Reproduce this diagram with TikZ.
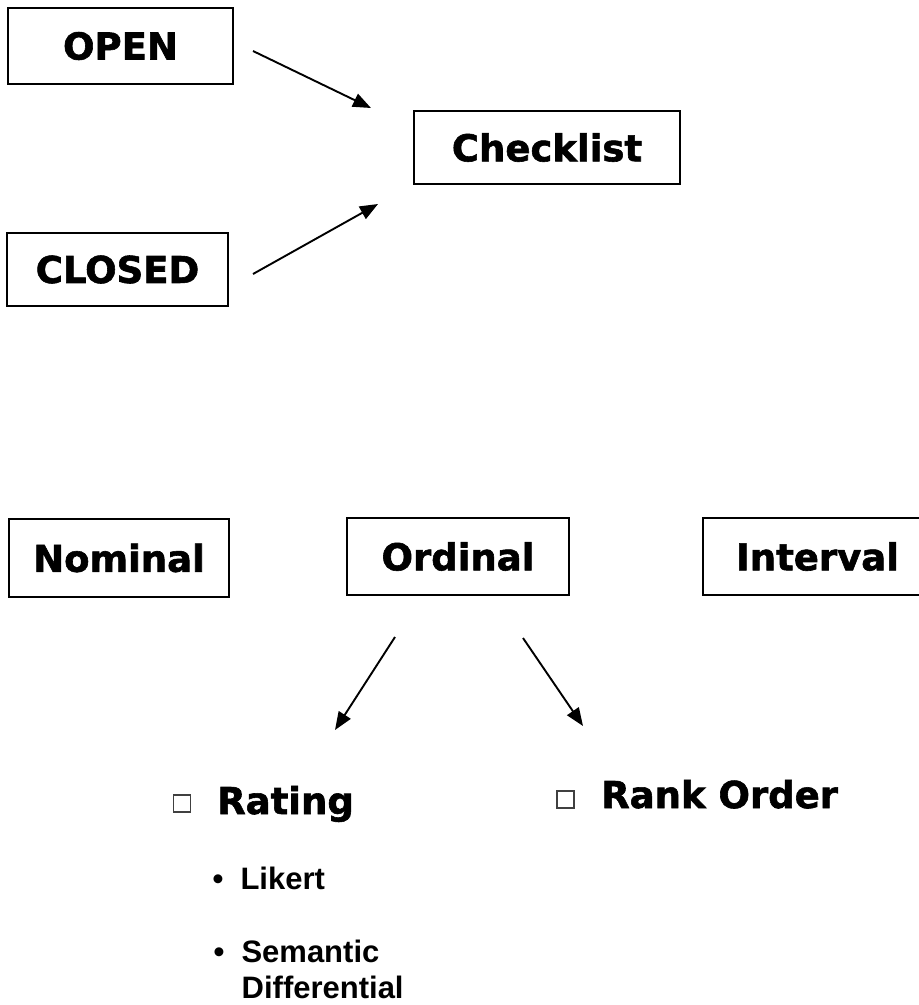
\documentclass[tikz,border=0pt]{standalone}
\usepackage{fontspec}
\setmainfont{Liberation Sans}
\newfontfamily\heavyfont{DejaVu Sans}[BoldFeatures={FakeBold=1.6}]
\usetikzlibrary{arrows.meta}
\tikzset{
  boxnode/.style={draw=black, line width=2pt, inner sep=0pt, align=center,
    font=\heavyfont\bfseries\fontsize{37}{44}\selectfont},
  arr/.style={line width=1.9pt, -{Triangle[length=18pt,width=14pt]}},
  sqbullet/.style={draw=black!75, line width=1.3pt, minimum size=17pt, inner sep=0pt},
  bigitem/.style={anchor=base west, inner sep=0pt, font=\heavyfont\bfseries\fontsize{37}{44}\selectfont},
  smallitem/.style={anchor=base west, inner sep=0pt, font=\bfseries\fontsize{31}{38}\selectfont}
}
\begin{document}
\begin{tikzpicture}[x=1pt,y=-1pt]
\useasboundingbox (0,0) rectangle (919,1005);
\fill[white] (0,0) rectangle (919,1005);
\clip (0,0) rectangle (919,1005);

% top part
\node[boxnode, minimum width=225pt, minimum height=76pt] (open) at (120.5,46) {OPEN};
\node[boxnode, minimum width=221pt, minimum height=73pt] (closed) at (117.5,269.5) {CLOSED};
\node[boxnode, minimum width=266pt, minimum height=73pt] (check) at (547,147.5) {Checklist};

\coordinate (o1) at (253,51);  \coordinate (o2) at (371,108);
\coordinate (c1) at (253,274); \coordinate (c2) at (378,204);
\draw[arr] (o1) -- (o2);
\draw[arr] (c1) -- (c2);

% bottom part
\node[boxnode, minimum width=220pt, minimum height=78pt] (nom) at (119,558) {Nominal};
\node[boxnode, minimum width=222pt, minimum height=77pt] (ord) at (458,556.5) {Ordinal};
\node[boxnode, minimum width=229pt, minimum height=77pt] (int) at (817.5,556.5) {Interval};

\coordinate (l1) at (395,637); \coordinate (l2) at (335,730);
\coordinate (r1) at (523,638); \coordinate (r2) at (583,726);
\draw[arr] (l1) -- (l2);
\draw[arr] (r1) -- (r2);

\node[sqbullet] (sq1) at (182,803.5) {};
\node[bigitem] (rating) at (217,814) {Rating};
\node[sqbullet] (sq2) at (565.5,799.5) {};
\node[bigitem] (rank) at (601,808) {Rank Order};

\node[smallitem] (likert) at (212.5,889) {•\hspace{17pt}Likert};
\node[smallitem] (sem) at (213.5,962) {•\hspace{17pt}Semantic};
\node[smallitem] (diff) at (241.5,998) {Differential};
\end{tikzpicture}
\end{document}
